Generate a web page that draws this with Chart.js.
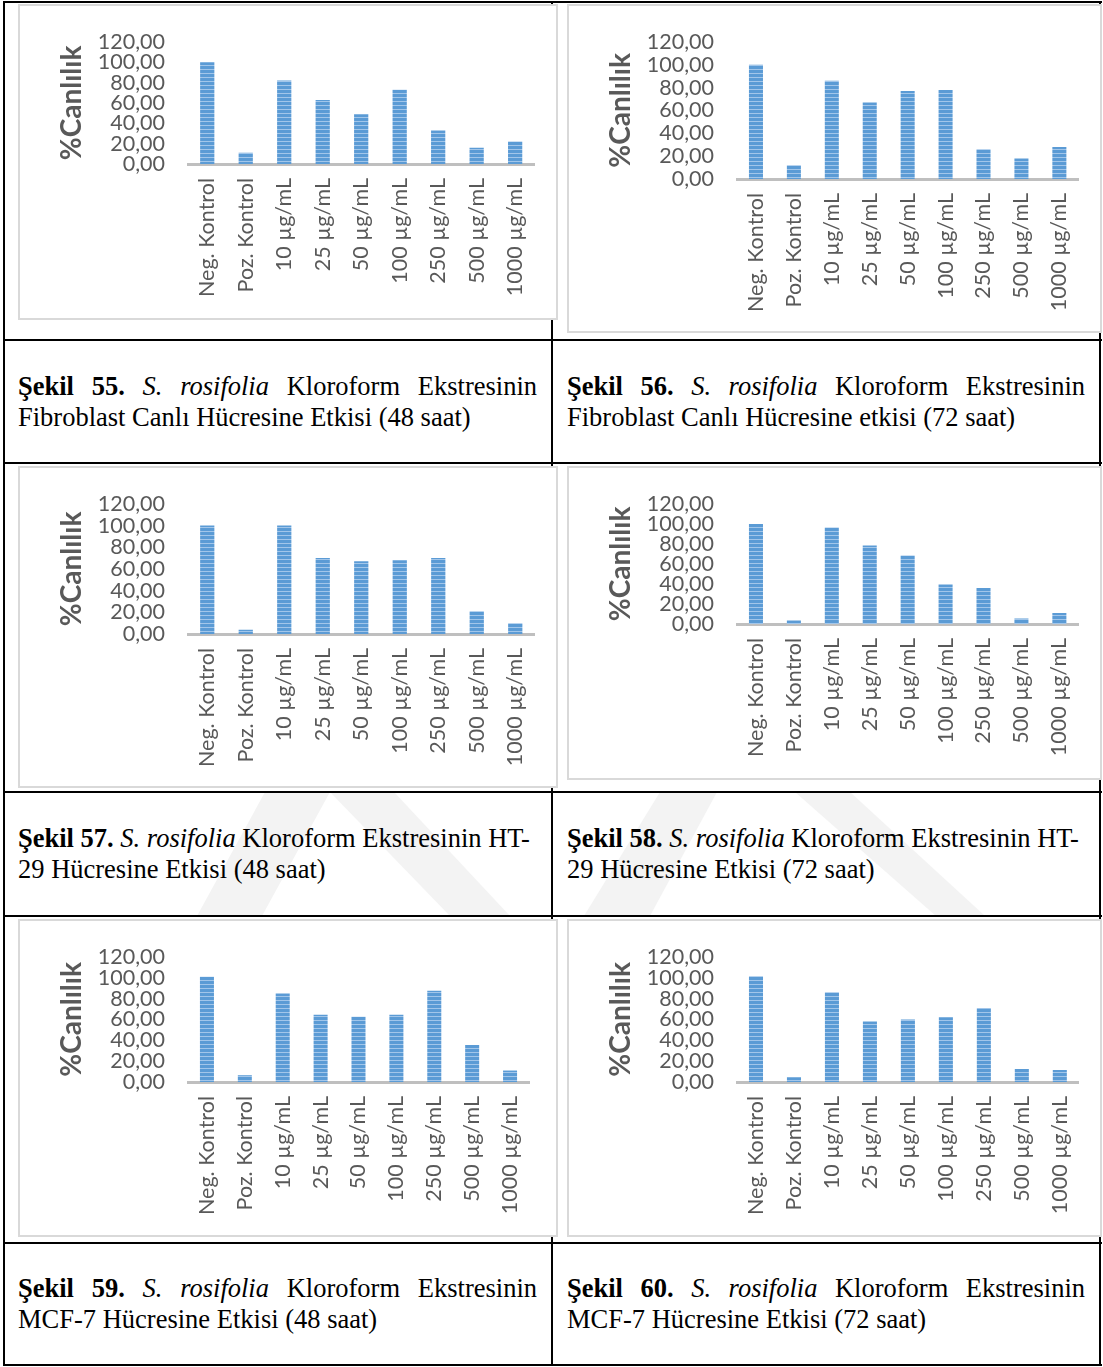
<!DOCTYPE html>
<html>
<head>
<meta charset="utf-8">
<script src="https://cdn.jsdelivr.net/npm/chart.js@4.4.1/dist/chart.umd.min.js"></script>
<style>
  html, body { margin: 0; padding: 0; background: #fff; }
  body { position: relative; width: 1103px; height: 1367px; overflow: hidden; }
  .hl, .vl { position: absolute; background: #000; z-index: 1; }
  .frame { position: absolute; background: #fff; border: 2px solid #d9d9d9; box-sizing: border-box; z-index: 2; }
  .frame canvas { position: absolute; left: 0; top: 0; }
  .cap {
    position: absolute; z-index: 3; box-sizing: border-box;
    display: flex; flex-direction: column; justify-content: center;
    font-family: 'Liberation Serif', 'Times New Roman', serif; font-size: 26.5px; line-height: 31px; color: #000;
  }
  .cap .l1 { text-align: justify; text-align-last: justify; white-space: nowrap; }
  .cap .l1.left { text-align-last: left; }
  #wm { position: absolute; left: 0; top: 0; z-index: 0; }
</style>
</head>
<body>

<svg id="wm" width="1103" height="1367">
  <g fill="#f3f3f3">
    <polygon points="197,916 262,916 330,792 265,792"/>
    <polygon points="330,792 394,792 510,916 450,916"/>
    <polygon points="584,916 650,916 717,792 660,792"/>
    <polygon points="795,792 850,792 985,916 936,916"/>
  </g>
</svg>

<div class="hl" style="left:3px; top:1px; width:1099px; height:2px"></div>
<div class="hl" style="left:3px; top:339px; width:1099px; height:2px"></div>
<div class="hl" style="left:3px; top:462px; width:1099px; height:2px"></div>
<div class="hl" style="left:3px; top:791px; width:1099px; height:2px"></div>
<div class="hl" style="left:3px; top:915px; width:1099px; height:2px"></div>
<div class="hl" style="left:3px; top:1242px; width:1099px; height:2px"></div>
<div class="hl" style="left:3px; top:1364px; width:1099px; height:2px"></div>
<div class="vl" style="left:3px; top:1px; width:2px; height:1365px"></div>
<div class="vl" style="left:551px; top:1px; width:2px; height:1365px"></div>
<div class="vl" style="left:1099px; top:1px; width:2px; height:1365px"></div>

<div class="cap" style="left:5px; top:341px; width:546px; height:121px; padding:0 14px 0 13px">
  <div class="l1"><b>Şekil 55.</b> <i>S. rosifolia</i> Kloroform Ekstresinin</div>
  <div>Fibroblast Canlı Hücresine Etkisi (48 saat)</div>
</div>
<div class="cap" style="left:553px; top:341px; width:546px; height:121px; padding:0 14px 0 14px">
  <div class="l1"><b>Şekil 56.</b> <i>S. rosifolia</i> Kloroform Ekstresinin</div>
  <div>Fibroblast Canlı Hücresine etkisi (72 saat)</div>
</div>
<div class="cap" style="left:5px; top:793px; width:546px; height:122px; padding:0 10px 0 13px">
  <div class="l1 left"><b>Şekil 57.</b> <i>S. rosifolia</i> Kloroform Ekstresinin HT-</div>
  <div>29 Hücresine Etkisi (48 saat)</div>
</div>
<div class="cap" style="left:553px; top:793px; width:546px; height:122px; padding:0 10px 0 14px">
  <div class="l1 left"><b>Şekil 58.</b> <i>S. rosifolia</i> Kloroform Ekstresinin HT-</div>
  <div>29 Hücresine Etkisi (72 saat)</div>
</div>
<div class="cap" style="left:5px; top:1244px; width:546px; height:120px; padding:0 14px 0 13px">
  <div class="l1"><b>Şekil 59.</b> <i>S. rosifolia</i> Kloroform Ekstresinin</div>
  <div>MCF-7 Hücresine Etkisi (48 saat)</div>
</div>
<div class="cap" style="left:553px; top:1244px; width:546px; height:120px; padding:0 14px 0 14px">
  <div class="l1"><b>Şekil 60.</b> <i>S. rosifolia</i> Kloroform Ekstresinin</div>
  <div>MCF-7 Hücresine Etkisi (72 saat)</div>
</div>

<script>
/* ---------- Data ---------- */
const categories = ['Neg. Kontrol', 'Poz. Kontrol', '10 µg/mL', '25 µg/mL', '50 µg/mL',
                    '100 µg/mL', '250 µg/mL', '500 µg/mL', '1000 µg/mL'];
const yTicks = [0, 20, 40, 60, 80, 100, 120];
const yTitle = '%Canlılık';

const fibro48 = [100, 11, 82, 63, 49, 73, 33, 16, 22];
const fibro72 = [100, 12, 86, 67, 77, 78, 26, 18, 28];
const ht29_48 = [100, 4, 100, 70, 67, 68, 70, 21, 10];
const ht29_72 = [100, 3.5, 96.5, 78.5, 68.5, 39.5, 36, 5.5, 11];
const mcf7_48 = [101, 6.5, 85, 64.5, 62.5, 64.5, 87.5, 35.5, 11];
const mcf7_72 = [101.5, 4.5, 86, 58, 60, 62, 71, 12.5, 11.5];

/* ---------- Layout (page px): frame box, plot area, title centre ---------- */
const panels = [
  { values: fibro48, frame: [18, 4, 540, 316],  plot: [188, 31, 537, 164],   titleX: 72 },
  { values: fibro72, frame: [567, 4, 535, 329], plot: [737, 31, 1085, 179],  titleX: 621 },
  { values: ht29_48, frame: [18, 466, 540, 322], plot: [188, 493, 539, 634], titleX: 72 },
  { values: ht29_72, frame: [567, 466, 535, 314], plot: [737, 492, 1085, 624], titleX: 621 },
  { values: mcf7_48, frame: [18, 919, 540, 318], plot: [188, 946, 529, 1082], titleX: 72 },
  { values: mcf7_72, frame: [567, 919, 535, 318], plot: [737, 946, 1093, 1082], titleX: 621 }
];

const textGrey = '#595959';
const tickFont = { family: 'Lato', size: 21.5 };

function stripes(ctx) {
  const c = document.createElement('canvas');
  c.width = 1; c.height = 4;
  const g = c.getContext('2d');
  g.fillStyle = '#5B9BD5'; g.fillRect(0, 0, 1, 4);
  g.fillStyle = '#A2C6EA'; g.fillRect(0, 3, 1, 1);
  return ctx.createPattern(c, 'repeat');
}

function buildPanel(p) {
  const [fx, fy, fw, fh] = p.frame;
  const [pl, pt, pr, pb] = p.plot;
  const frame = document.createElement('div');
  frame.className = 'frame';
  Object.assign(frame.style, { left: fx + 'px', top: fy + 'px', width: fw + 'px', height: fh + 'px' });
  const cv = document.createElement('canvas');
  const cw = fw - 4, ch = fh - 4;
  cv.width = cw; cv.height = ch;
  cv.style.width = cw + 'px'; cv.style.height = ch + 'px';
  frame.appendChild(cv);
  document.body.appendChild(frame);

  const ox = fx + 2, oy = fy + 2;
  const padL = p.titleX - 21 - ox;
  const yW = pl - ox - padL;
  const padR = ox + cw - pr;
  const padT = pt - oy;
  const xH = oy + ch - pb;

  new Chart(cv, {
    type: 'bar',
    data: {
      labels: categories,
      datasets: [{
        data: p.values,
        backgroundColor: stripes(cv.getContext('2d')),
        borderWidth: 0,
        barPercentage: 0.37,
        categoryPercentage: 1
      }]
    },
    options: {
      responsive: false,
      animation: false,
      layout: { padding: { left: padL, right: padR, top: padT, bottom: 0 } },
      plugins: { legend: { display: false }, tooltip: { enabled: false } },
      scales: {
        x: {
          grid: { display: false, drawTicks: false },
          border: { display: true, color: '#BFBFBF', width: 3 },
          ticks: { color: textGrey, font: tickFont, minRotation: 90, maxRotation: 90, autoSkip: false, padding: 14 },
          afterFit: s => { s.height = xH; }
        },
        y: {
          min: yTicks[0],
          max: yTicks[yTicks.length - 1],
          afterBuildTicks: s => { s.ticks = yTicks.map(v => ({ value: v })); },
          grid: { display: false, drawTicks: false },
          border: { display: false },
          ticks: { color: textGrey, font: tickFont, padding: 23, autoSkip: false,
                   callback: v => v.toFixed(2).replace('.', ',') },
          title: { display: true, text: yTitle, color: textGrey,
                   font: { family: 'Lato', size: 28, weight: 'bold' }, padding: { top: 4, bottom: 0 } },
          afterFit: s => { s.width = yW; }
        }
      }
    }
  });
}

panels.forEach(buildPanel);
</script>
</body>
</html>
